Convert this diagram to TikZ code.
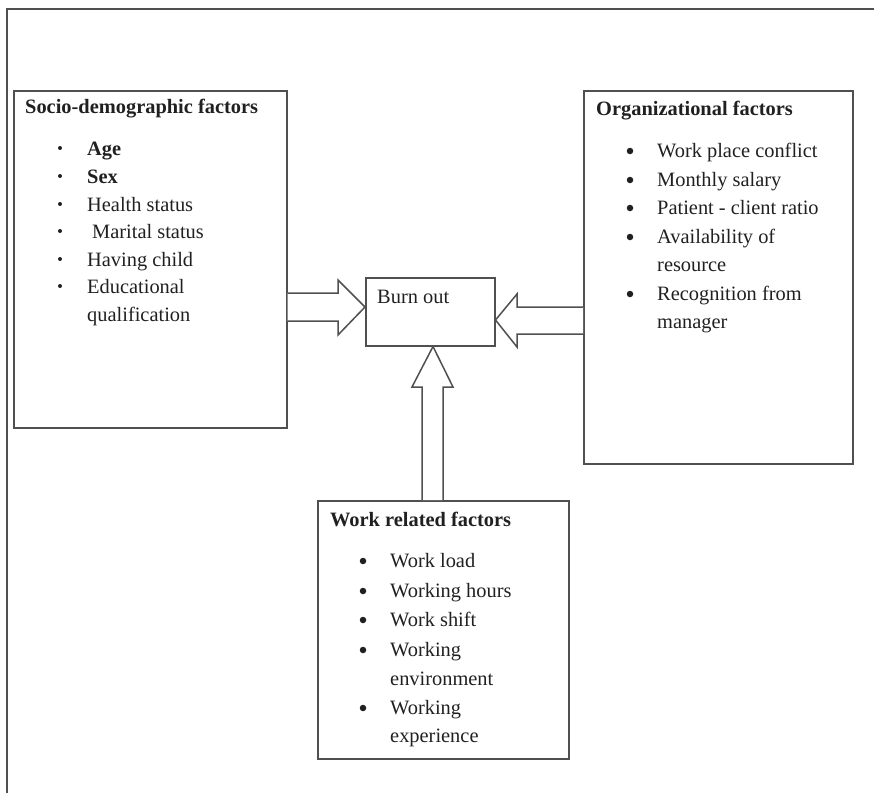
\documentclass[tikz,border=0pt]{standalone}
\usepackage{fontspec}
\setmainfont{Liberation Serif}
\usetikzlibrary{calc}
\definecolor{lc}{HTML}{505050}
\definecolor{tc}{HTML}{202020}
\begin{document}
\begin{tikzpicture}[x=1pt,y=-1pt,line join=miter]
\tikzset{
  box/.style={draw=lc, line width=1.5pt, rectangle, inner sep=0pt, anchor=north west},
  txt/.style={anchor=base west, inner sep=0pt, text=tc, font=\fontsize{20.4}{26}\selectfont},
  blk/.style={draw=lc, line width=1.5pt, fill=white},
  sdot/.style={circle, fill=tc, inner sep=0pt, minimum size=4pt},
  bdot/.style={circle, fill=tc, inner sep=0pt, minimum size=6.5pt},
  frame/.style={draw=lc, line width=1.8pt}
}
\useasboundingbox (0,0) rectangle (874,793);
% outer frame (partly visible)
\coordinate (fr1) at (7,793);
\coordinate (fr2) at (7,9);
\coordinate (fr3) at (874,9);
\draw[frame] (fr1) -- (fr2) -- (fr3);

% boxes
\node[box, minimum width=273pt, minimum height=337pt] (sd) at (13,90) {};
\node[box, minimum width=269pt, minimum height=373pt] (org) at (583,90) {};
\node[box, minimum width=129pt, minimum height=68pt] (bo) at (365,277) {};
\node[box, minimum width=251pt, minimum height=258pt] (wr) at (317,500) {};

% block arrows
\draw[blk] (sd.east |- 0,293) -- (338,293) -- (338,280) -- (bo.west |- 0,307) -- (338,335) -- (338,321) -- (sd.east |- 0,321);
\draw[blk] (org.west |- 0,307) -- (517,307) -- (517,294) -- (bo.east |- 0,320) -- (517,347) -- (517,334) -- (org.west |- 0,334);
\draw[blk] (wr.north -| 422,0) -- (422,387) -- (412,387) -- (bo.south -| 433,0) -- (453,387) -- (443,387) -- (wr.north -| 443,0);

% Burn out
\node[txt] (bot) at (377,303) {Burn out};

% Socio-demographic
\node[txt] (sdt) at (25,113) {\bfseries Socio-demographic factors};
\node[sdot] (sd1) at (60,148) {};
\node[sdot] (sd2) at (60,176) {};
\node[sdot] (sd3) at (60,204) {};
\node[sdot] (sd4) at (60,231) {};
\node[sdot] (sd5) at (60,259) {};
\node[sdot] (sd6) at (60,286) {};
\node[txt] (sdi1) at (87,155) {\bfseries Age};
\node[txt] (sdi2) at (87,183) {\bfseries Sex};
\node[txt] (sdi3) at (87,211) {Health status};
\node[txt] (sdi4) at (92,238) {Marital status};
\node[txt] (sdi5) at (87,266) {Having child};
\node[txt] (sdi6) at (87,293) {Educational};
\node[txt] (sdi7) at (87,321) {qualification};

% Organizational
\node[txt] (ort) at (596,115) {\bfseries Organizational factors};
\node[bdot] (or1) at (630,151) {};
\node[bdot] (or2) at (630,180) {};
\node[bdot] (or3) at (630,208) {};
\node[bdot] (or4) at (630,237) {};
\node[bdot] (or5) at (630,294) {};
\node[txt] (ori1) at (657,157) {Work place conflict};
\node[txt] (ori2) at (657,186) {Monthly salary};
\node[txt] (ori3) at (657,214) {Patient - client ratio};
\node[txt] (ori4) at (657,243) {Availability of};
\node[txt] (ori5) at (657,271) {resource};
\node[txt] (ori6) at (657,300) {Recognition from};
\node[txt] (ori7) at (657,328) {manager};

% Work related
\node[txt] (wrt) at (330,526) {\bfseries Work related factors};
\node[bdot] (wr1) at (363,561) {};
\node[bdot] (wr2) at (363,591) {};
\node[bdot] (wr3) at (363,620) {};
\node[bdot] (wr4) at (363,650) {};
\node[bdot] (wr5) at (363,708) {};
\node[txt] (wri1) at (390,567) {Work load};
\node[txt] (wri2) at (390,597) {Working hours};
\node[txt] (wri3) at (390,626) {Work shift};
\node[txt] (wri4) at (390,656) {Working};
\node[txt] (wri5) at (390,685) {environment};
\node[txt] (wri6) at (390,714) {Working};
\node[txt] (wri7) at (390,742) {experience};
\end{tikzpicture}
\end{document}
